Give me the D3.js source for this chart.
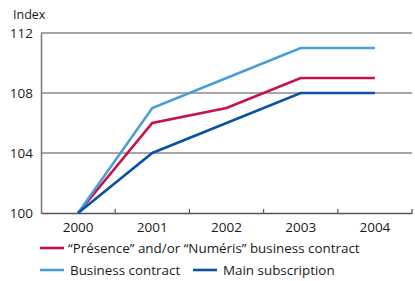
<!DOCTYPE html>
<html>
<head>
<meta charset="utf-8">
<script src="https://cdn.jsdelivr.net/npm/d3@7"></script>
<style>
  body { margin: 0; background: #fff; }
  text { font-family: "Open Sans", sans-serif; fill: #1a1a1a; }
</style>
</head>
<body>
<div id="chart"></div>
<script>
// data
var years = ["2000", "2001", "2002", "2003", "2004"];
var presence = [100, 106, 107, 109, 109];
var business = [100, 107, 109, 111, 111];
var mainSub = [100, 104, 106, 108, 108];
var yTicks = [100, 104, 108, 112];

var series = [
    {name: "\u201CPrésence\u201D and/or \u201CNuméris\u201D business contract", values: presence, color: "#c8104a"},
    {name: "Business contract", values: business, color: "#4a9ed8"},
    {name: "Main subscription", values: mainSub, color: "#0a52a0"}
];

var margin = {top: 33, right: 3, bottom: 68, left: 41},
    width = 415 - margin.left - margin.right,
    height = 281 - margin.top - margin.bottom;

var svg = d3.select("#chart")
    .append("svg")
    .attr("width", 415)
    .attr("height", 281)
    .append("g")
    .attr("transform", "translate(" + margin.left + "," + margin.top + ")");

var x = d3.scaleBand()
    .domain(years)
    .range([0, width]);

var y = d3.scaleLinear()
    .domain([100, 112])
    .range([height, 0]);

// gridlines
svg.selectAll(".grid")
    .data(yTicks.slice(1))
    .enter().append("line")
    .attr("x1", 0)
    .attr("x2", width)
    .attr("y1", function(d) { return y(d); })
    .attr("y2", function(d) { return y(d); })
    .attr("stroke", "#8a8a8a")
    .attr("stroke-width", 1.5);

// y axis
var yAxis = svg.append("g")
    .call(d3.axisLeft(y).tickValues(yTicks).tickSize(0).tickPadding(8));
yAxis.select(".domain").attr("stroke", "#777").attr("stroke-width", 1.5);
yAxis.selectAll("text").style("font-size", "13.5px").attr("fill", "#1a1a1a");

// x axis
var xAxis = svg.append("g")
    .attr("transform", "translate(0," + height + ")")
    .call(d3.axisBottom(x).tickSize(0).tickPadding(9));
xAxis.select(".domain").attr("stroke", "#555").attr("stroke-width", 1.5);
xAxis.selectAll("text").style("font-size", "13.5px").attr("fill", "#1a1a1a");

// small ticks between categories
svg.selectAll(".xtick")
    .data(years)
    .enter().append("line")
    .attr("x1", function(d) { return x(d) + x.bandwidth(); })
    .attr("x2", function(d) { return x(d) + x.bandwidth(); })
    .attr("y1", height)
    .attr("y2", height - 4)
    .attr("stroke", "#555")
    .attr("stroke-width", 1.2);

svg.append("text")
    .attr("x", -28)
    .attr("y", -14)
    .style("font-size", "12.5px")
    .text("Index");

// lines
var line = d3.line()
    .x(function(d, i) { return x(years[i]) + x.bandwidth() / 2; })
    .y(function(d) { return y(d); });

svg.selectAll(".series")
    .data(series)
    .enter().append("path")
    .attr("fill", "none")
    .attr("stroke", function(d) { return d.color; })
    .attr("stroke-width", 2.6)
    .attr("d", function(d) { return line(d.values); });

// legend
var legendPos = [[0, 248], [0, 270], [153, 270]];
var legend = svg.selectAll(".legend")
    .data(series)
    .enter().append("g")
    .attr("transform", function(d, i) {
        return "translate(" + legendPos[i][0] + "," + (legendPos[i][1] - margin.top) + ")";
    });
legend.append("line")
    .attr("x1", -1)
    .attr("x2", 23)
    .attr("stroke", function(d) { return d.color; })
    .attr("stroke-width", 2.6);
legend.append("text")
    .attr("x", function(d, i) { return i == 0 ? 27 : 29; })
    .attr("dy", "0.35em")
    .style("font-size", "13.4px")
    .text(function(d) { return d.name; });
</script>
</body>
</html>
